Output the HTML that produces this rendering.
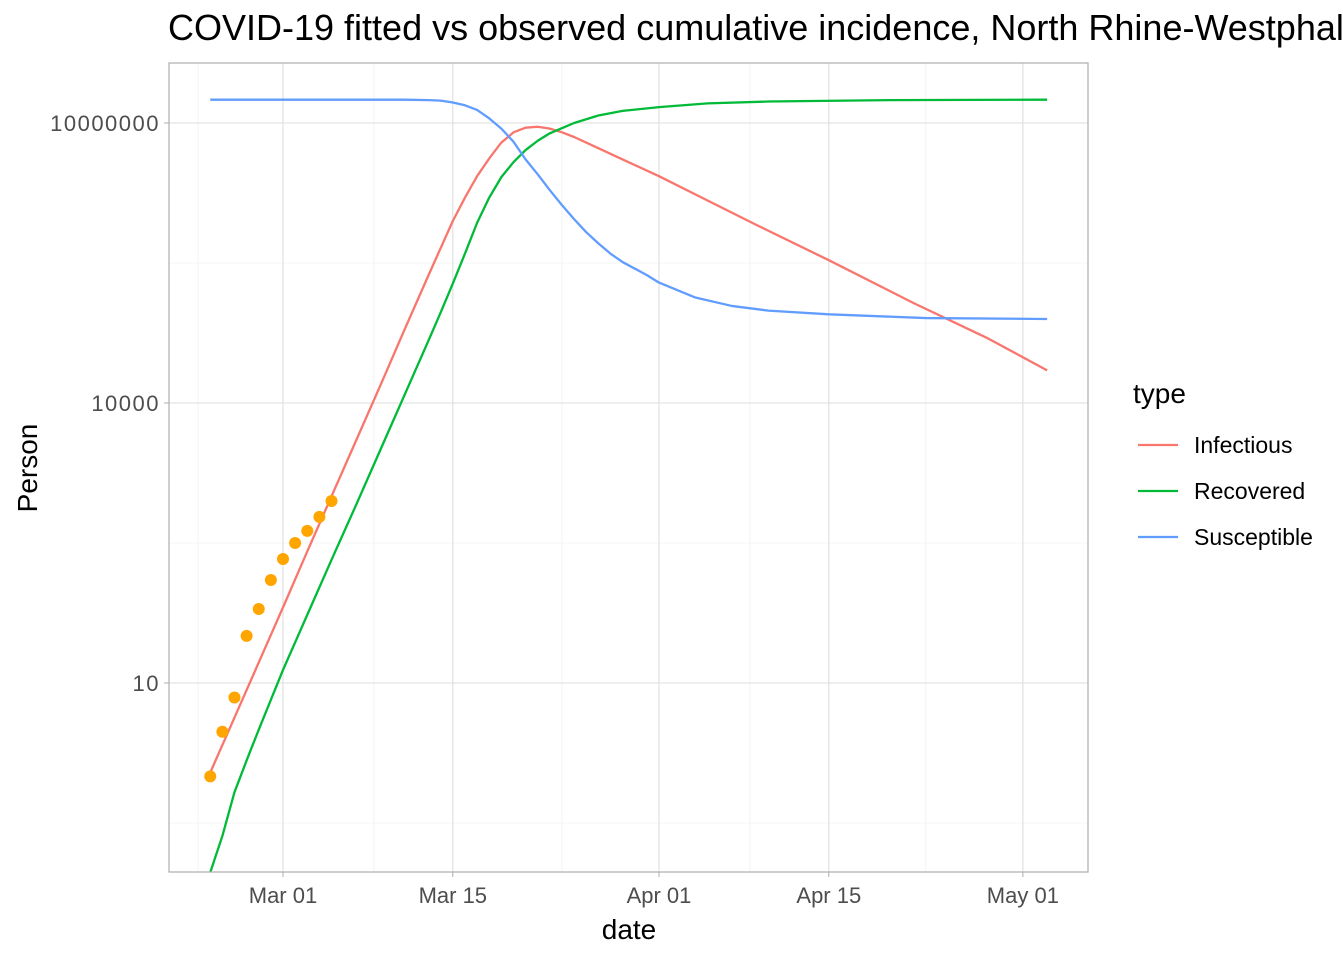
<!DOCTYPE html>
<html><head><meta charset="utf-8"><style>
body{margin:0;background:#fff;width:1344px;height:960px;overflow:hidden}
svg text{font-family:"Liberation Sans",Arial,sans-serif}
</style></head><body>
<svg id="c" width="1344" height="960"></svg>
<script>
const obsDays=[-6,-5,-4,-3,-2,-1,0,1,2,3,4];
const obsVals=[1,3,7,32,62,127,213,316,427,603,891];
const infDays=[-6,-4,-2,0,2,4,6,8,10,12,13,14,15,16,17,18,19,20,21,22,23,24,26,28,31,35,39,45,52,58,63];
const infLog=[0.04,0.63,1.22,1.81,2.41,3.0,3.59,4.18,4.78,5.37,5.66,5.95,6.2,6.43,6.62,6.79,6.9,6.95,6.96,6.94,6.9,6.85,6.73,6.61,6.43,6.17,5.91,5.53,5.07,4.7,4.35];
const recDays=[-6,-5,-4,-3,-2,-1,0,2,4,6,8,10,12,13,14,15,16,17,18,19,20,21,22,24,26,28,31,35,40,50,63];
const recLog=[-1.03,-0.64,-0.17,0.17,0.5,0.82,1.14,1.73,2.32,2.9,3.49,4.08,4.67,4.97,5.28,5.6,5.93,6.2,6.42,6.58,6.71,6.81,6.89,7.0,7.08,7.13,7.17,7.21,7.23,7.245,7.25];
const susDays=[-6,10,12,13,14,15,16,17,18,19,20,21,22,23,24,25,26,27,28,30,31,34,37,40,45,53,63];
const susLog=[7.25,7.25,7.245,7.24,7.22,7.19,7.14,7.05,6.94,6.8,6.61,6.45,6.28,6.12,5.97,5.83,5.71,5.6,5.51,5.37,5.29,5.13,5.04,4.99,4.95,4.91,4.9];
const xTickDays=[0,14,31,45,61];
const xTickLabels=["Mar 01","Mar 15","Apr 01","Apr 15","May 01"];
const yTickLog=[1,4,7];
const yTickLabels=["10","10000","10000000"];

const NS="http://www.w3.org/2000/svg";
const svg=document.getElementById('c');
const L=169,R=1088,T=63,B=872;
const X=d=>283+d*(376/31);
const Y=lg=>683-(lg-1)*(280/3);
function el(tag,attrs,parent){const e=document.createElementNS(NS,tag);for(const k in attrs)e.setAttribute(k,attrs[k]);(parent||svg).appendChild(e);return e;}

const defs=el('defs',{});const cp=el('clipPath',{id:'clip'},defs);el('rect',{x:L,y:T,width:R-L,height:B-T},cp);
const bg=el('rect',{x:L,y:T,width:R-L,height:B-T,fill:'#fff'});


[-7,7.5,23,38.5,53].forEach(d=>{const g=el('line',{x1:X(d),x2:X(d),y1:T,y2:B,stroke:'#f0f0f0','stroke-width':0.8});

});
[-0.5,2.5,5.5].forEach(v=>{const g=el('line',{x1:L,x2:R,y1:Y(v),y2:Y(v),stroke:'#f0f0f0','stroke-width':0.8});

});
xTickDays.forEach((d,i)=>{const g=el('line',{x1:X(d),x2:X(d),y1:T,y2:B,stroke:'#dedede','stroke-width':1.1});


el('line',{x1:X(d),x2:X(d),y1:B,y2:B+5,stroke:'#b3b3b3','stroke-width':1.1});
const t=el('text',{x:X(d),y:903,'text-anchor':'middle','font-size':22,fill:'#4d4d4d'});t.textContent=xTickLabels[i];

});
yTickLog.forEach((v,i)=>{const g=el('line',{x1:L,x2:R,y1:Y(v),y2:Y(v),stroke:'#dedede','stroke-width':1.1});


el('line',{x1:L-5,x2:L,y1:Y(v),y2:Y(v),stroke:'#b3b3b3','stroke-width':1.1});
const t=el('text',{x:L-9,y:Y(v)+8,'text-anchor':'end','font-size':22,fill:'#4d4d4d','letter-spacing':1.5});t.textContent=yTickLabels[i];

});
function line(days,logs,color,name){const p=el('polyline',{points:days.map((d,i)=>X(d)+','+Y(logs[i])).join(' '),fill:'none',stroke:color,'stroke-width':2.3,'stroke-linejoin':'round','clip-path':'url(#clip)'});

}
line(infDays,infLog,'#F8766D','infectious-line');
line(recDays,recLog,'#00BA38','recovered-line');
line(susDays,susLog,'#619CFF','susceptible-line');
obsDays.forEach((d,i)=>{const c=el('circle',{cx:X(d),cy:Y(Math.log10(obsVals[i])),r:6,fill:'#FFA500'});

});
const br=el('rect',{x:L,y:T,width:R-L,height:B-T,fill:'none',stroke:'#b3b3b3','stroke-width':1.3});


let t=el('text',{x:168,y:40,'font-size':36,fill:'#000'});t.textContent='COVID-19 fitted vs observed cumulative incidence, North Rhine-Westphalia';


t=el('text',{x:629,y:939,'text-anchor':'middle','font-size':28,fill:'#000'});t.textContent='date';


t=el('text',{x:37,y:468,'text-anchor':'middle','font-size':28,fill:'#000',transform:'rotate(-90 37 468)'});t.textContent='Person';


t=el('text',{x:1133,y:403,'font-size':28,fill:'#000'});t.textContent='type';


[['Infectious','#F8766D',445],['Recovered','#00BA38',491],['Susceptible','#619CFF',537]].forEach(([n,c,y])=>{
const g=el('g',{});


el('line',{x1:1138,x2:1178,y1:y,y2:y,stroke:c,'stroke-width':2.3},g);
const tt=el('text',{x:1194,y:y+8,'font-size':23,fill:'#000'},g);tt.textContent=n;});
</script>
</body></html>
